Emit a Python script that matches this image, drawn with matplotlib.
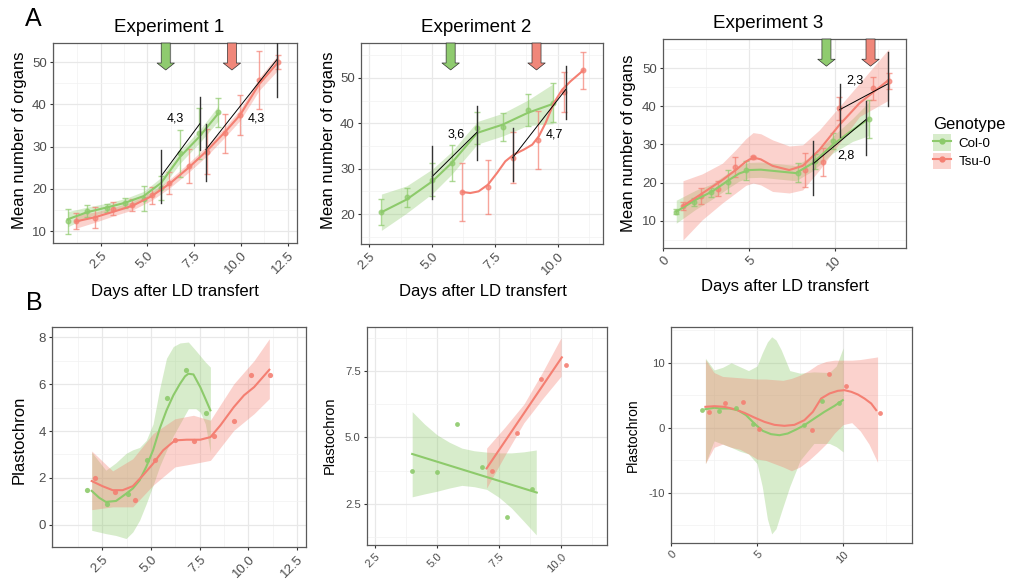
import matplotlib
matplotlib.use("Agg")
import matplotlib.pyplot as plt
from matplotlib.patches import Patch
from matplotlib.lines import Line2D
from matplotlib.legend_handler import HandlerTuple
from matplotlib.ticker import AutoMinorLocator

plt.rcParams['font.family'] = ['Liberation Sans', 'DejaVu Sans']

GREEN = '#8dca6b'
RED = '#f47f72'
GREEN_ARROW = '#8fcb6f'
RED_ARROW = '#f0877a'

genotypes = ['Col-0', 'Tsu-0']

# ---------------- Experiment 1 (panel A) ----------------
a1_col_x = [0.73, 1.79, 2.82, 3.8, 4.8, 5.73, 6.75, 7.77, 8.8]
a1_col_y = [12.3, 14.75, 15.5, 16.7, 17.7, 20.2, 28.4, 33.1, 38.1]
a1_col_err = [2.9, 1.5, 1.0, 1.2, 3.0, 2.8, 5.5, 6.0, 3.4]
a1_col_fit = [12.8, 14.5, 15.6, 16.7, 18.3, 21.4, 27.6, 32.3, 37.9]
a1_col_se = [1.8, 1.2, 1.0, 1.0, 1.1, 1.3, 1.5, 1.5, 1.8]

a1_tsu_x = [1.18, 2.2, 3.18, 4.2, 5.23, 6.18, 7.2, 8.18, 9.16, 9.96, 10.98, 11.96]
a1_tsu_y = [12.4, 13.2, 15.3, 16.2, 18.5, 21.4, 25.5, 28.8, 33.1, 37.5, 45.8, 50.0]
a1_tsu_err = [2.0, 2.4, 1.5, 1.5, 2.0, 2.7, 4.0, 5.3, 4.5, 4.7, 6.9, 1.7]
a1_tsu_fit = [12.3, 13.3, 14.6, 16.0, 18.3, 21.2, 25.0, 29.0, 33.5, 37.5, 44.8, 49.8]
a1_tsu_se = [1.6, 1.2, 1.0, 1.0, 1.0, 1.0, 1.1, 1.2, 1.2, 1.3, 1.5, 1.8]

a1_slopes = [(5.73, 23.0, 7.82, 35.5), (8.13, 29.3, 11.93, 50.6)]
a1_bars = [(5.73, 16.7, 29.2), (7.82, 29.2, 41.8), (8.13, 21.8, 35.3), (11.93, 41.8, 54.7)]
a1_labels = [(6.5, 36.7, '4,3'), (10.8, 36.7, '4,3')]
a1_arrows = [5.98, 9.52]

# ---------------- Experiment 2 ----------------
a2_col_x = [2.99, 3.99, 5.01, 5.78, 6.8, 7.8, 8.8, 9.81]
a2_col_y = [20.4, 23.7, 27.6, 31.25, 39.0, 39.2, 43.0, 44.5]
a2_col_err = [2.9, 2.1, 3.6, 3.9, 3.6, 3.0, 3.5, 4.3]
a2_col_fit = [20.4, 23.2, 27.2, 31.25, 37.9, 39.7, 42.3, 44.3]
a2_col_se = [4.0, 3.0, 2.7, 2.5, 2.5, 2.5, 2.8, 4.4]

a2_tsu_x = [6.21, 7.22, 8.2, 9.22, 10.24, 11.01]
a2_tsu_y = [24.9, 26.0, 32.4, 36.25, 46.9, 51.7]
a2_tsu_err = [6.4, 5.9, 5.6, 6.4, 4.3, 4.1]
a2_tsu_fit_x = [6.21, 6.52, 6.85, 7.22, 7.58, 7.91, 8.24, 8.64, 8.98, 9.24, 9.51,
                9.84, 10.17, 10.5, 11.01]
a2_tsu_fit = [24.85, 24.63, 25.0, 26.47, 29.04, 31.62, 33.09, 34.19, 35.29, 37.13,
              40.07, 44.49, 47.43, 49.26, 51.69]

a2_slopes = [(5.01, 28.3, 6.78, 38.0), (8.2, 32.4, 10.33, 47.6)]
a2_bars = [(5.01, 23.3, 35.1), (6.78, 32.0, 43.9), (8.2, 27.2, 39.0), (10.33, 41.0, 52.6)]
a2_labels = [(5.96, 37.6, '3,6'), (9.87, 37.6, '4,7')]
a2_arrows = [5.74, 9.15]

# ---------------- Experiment 3 ----------------
a3_col_x = [0.76, 1.79, 2.76, 3.77, 4.8, 7.8, 8.8, 9.84, 11.94]
a3_col_y = [12.4, 15.0, 17.5, 20.3, 23.3, 22.6, 25.6, 30.9, 36.7]
a3_col_err = [0.6, 1.0, 1.2, 3.0, 2.5, 2.5, 2.0, 2.0, 5.0]
a3_col_fit_x = [0.76, 1.88, 2.85, 3.82, 4.41, 4.99, 5.67, 6.35, 7.71, 8.68, 9.84, 11.0, 11.94]
a3_col_fit = [12.4, 15.5, 17.7, 20.7, 22.4, 23.3, 23.4, 23.1, 22.5, 25.1, 29.9, 33.8, 36.7]
a3_col_se = [3.0, 2.5, 2.0, 2.0, 2.0, 2.0, 2.0, 2.0, 2.0, 2.0, 2.2, 3.0, 4.4]

a3_tsu_x = [1.15, 2.17, 3.2, 4.17, 5.22, 8.25, 9.26, 10.23, 12.2, 13.1]
a3_tsu_y = [13.9, 16.5, 18.4, 24.2, 26.6, 23.3, 25.5, 39.5, 44.7, 46.5]
a3_tsu_err = [1.0, 2.0, 2.0, 2.6, 0.5, 4.4, 3.7, 3.0, 3.0, 2.1]
a3_tsu_fit_x = [1.15, 2.27, 3.44, 4.21, 4.8, 5.22, 5.67, 6.35, 7.32, 8.1, 9.07, 10.23, 11.4, 13.1]
a3_tsu_fit = [13.9, 17.2, 20.7, 23.3, 25.5, 26.6, 26.1, 24.4, 23.3, 24.4, 28.6, 35.1, 40.8, 46.9]
a3_tsu_upper = [20.5, 22.3, 25.1, 28.6, 31.5, 33.1, 32.8, 31.2, 29.6, 29.9, 33.8, 39.9, 46.0, 55.0]
a3_tsu_lower = [5.0, 10.3, 14.7, 17.3, 19.3, 19.9, 19.4, 17.7, 17.3, 18.1, 23.3, 30.3, 37.3, 41.6]

a3_slopes = [(8.7, 24.9, 11.8, 36.6), (10.25, 39.1, 13.07, 45.9)]
a3_bars = [(8.7, 16.8, 30.8), (11.8, 27.3, 41.3), (10.25, 31.9, 45.8), (13.07, 40.0, 54.1)]
a3_labels = [(10.6, 27.2, '2,8'), (11.13, 46.8, '2,3')]
a3_arrows = [9.48, 12.04]

# ---------------- Plastochron (panel B) ----------------
b1_col_x = [1.71, 2.74, 3.81, 4.82, 5.8, 6.8, 7.84]
b1_col_y = [1.50, 0.91, 1.33, 2.75, 5.42, 6.58, 4.77]
b1_col_fit_x = [1.965, 2.345, 2.69, 3.21, 3.73, 4.07, 4.42, 4.76, 5.11, 5.45, 5.8, 6.15,
                6.49, 6.75, 6.92, 7.18, 7.53, 7.79, 8.05]
b1_col_fit = [1.45, 1.16, 0.98, 1.02, 1.33, 1.55, 1.90, 2.47, 3.18, 4.10, 4.88, 5.52,
              6.01, 6.33, 6.44, 6.41, 5.87, 5.38, 4.88]
b1_col_band_x = [1.965, 2.69, 3.21, 3.73, 4.07, 4.42, 4.76, 5.11, 5.45, 5.8, 6.15, 6.49,
                 6.92, 7.3, 7.53, 7.79, 8.05]
b1_col_upper = [3.1, 2.33, 2.65, 3.05, 3.2, 3.3, 3.6, 4.3, 5.8, 7.1, 7.6, 7.75,
                7.79, 7.43, 7.2, 6.94, 6.72]
b1_col_lower = [-0.23, -0.37, -0.45, -0.58, -0.3, 0.2, 0.9, 1.69, 2.5, 3.18, 3.8, 4.31,
                4.95, 4.95, 4.8, 4.3, 3.06]

b1_tsu_x = [2.12, 3.16, 4.18, 5.21, 6.23, 7.23, 8.25, 9.25, 10.12, 11.12]
b1_tsu_y = [2.01, 1.40, 1.08, 2.75, 3.6, 3.56, 3.77, 4.43, 6.37, 6.37]
b1_tsu_fit_x = [1.965, 2.52, 3.04, 3.55, 4.07, 4.59, 5.11, 5.63, 6.23, 6.83, 7.53, 8.05,
                8.56, 9.25, 9.77, 10.29, 11.07]
b1_tsu_fit = [1.87, 1.65, 1.48, 1.48, 1.65, 2.11, 2.61, 3.18, 3.6, 3.63, 3.63, 3.74,
              4.24, 5.02, 5.52, 5.87, 6.61]
b1_tsu_band_x = [1.965, 3.04, 4.07, 5.11, 6.23, 7.18, 8.05, 9.25, 10.29, 11.07]
b1_tsu_upper = [3.15, 2.3, 2.82, 3.89, 4.52, 4.67, 4.46, 6.01, 7.0, 7.93]
b1_tsu_lower = [0.65, 0.77, 0.77, 1.69, 2.47, 2.61, 2.75, 4.03, 4.74, 5.38]

b2_col_x = [4.0, 5.0, 5.81, 6.8, 7.81, 8.82]
b2_col_y = [3.75, 3.71, 5.51, 3.9, 2.0, 3.06]
b2_col_fit_x = [4.0, 9.02]
b2_col_fit = [4.38, 2.93]
b2_col_band_x = [4.0, 4.5, 5.0, 5.5, 6.0, 6.5, 7.0, 7.5, 8.0, 8.5, 9.0]
b2_col_upper = [5.97, 5.5, 5.1, 4.82, 4.6, 4.5, 4.45, 4.42, 4.42, 4.46, 4.53]
b2_col_lower = [2.77, 2.88, 2.98, 3.1, 3.2, 3.15, 3.05, 2.75, 2.35, 1.85, 1.34]

b2_tsu_x = [7.2, 8.21, 9.19, 10.2]
b2_tsu_y = [3.75, 5.18, 7.2, 7.73]
b2_tsu_fit_x = [7.0, 10.03]
b2_tsu_fit = [3.84, 8.01]
b2_tsu_band_x = [7.0, 7.75, 8.5, 9.25, 10.0]
b2_tsu_upper = [4.6, 5.4, 6.25, 7.45, 8.75]
b2_tsu_lower = [3.1, 4.35, 5.55, 6.45, 7.3]

b3_col_x = [1.78, 2.77, 3.8, 4.79, 7.75, 8.76, 9.75]
b3_col_y = [2.72, 2.57, 2.98, 0.6, 0.41, 4.15, 3.82]
b3_col_fit_x = [2.0, 2.52, 2.91, 3.39, 3.88, 4.36, 4.84, 5.33, 5.81, 6.30, 6.78, 7.27,
                7.75, 8.33, 8.91, 9.50, 9.98]
b3_col_fit = [2.87, 3.08, 2.97, 2.97, 2.72, 1.95, 0.67, -0.46, -0.97, -1.13, -0.87, -0.26,
              0.41, 1.44, 2.46, 3.38, 4.26]
b3_col_band_x = [2.0, 2.5, 3.0, 3.5, 4.0, 4.5, 5.0, 5.3, 5.6, 5.85, 6.1, 6.4, 6.9, 7.5,
                 8.3, 9.2, 9.6, 10.0]
b3_col_upper = [10.7, 8.9, 9.3, 10.0, 9.4, 8.8, 9.5, 11.5, 13.2, 14.0, 13.5, 12.0, 8.8,
                8.4, 8.6, 8.5, 9.5, 12.3]
b3_col_lower = [-5.5, -2.0, -2.5, -3.0, -3.6, -4.0, -5.5, -9.0, -14.0, -16.3, -15.5, -13.0,
                -9.0, -5.0, -2.4, -2.4, -2.9, -3.7]

b3_tsu_x = [2.19, 3.16, 4.17, 5.14, 8.18, 9.17, 10.16, 12.15]
b3_tsu_y = [2.41, 3.89, 4.0, -0.2, -0.26, 8.26, 6.46, 2.31]
b3_tsu_fit_x = [2.0, 2.52, 3.10, 3.68, 4.26, 4.84, 5.43, 6.01, 6.59, 7.17, 7.75, 8.24,
                8.72, 9.21, 9.69, 10.08, 10.47, 10.85, 11.24, 11.63, 11.92]
b3_tsu_fit = [3.23, 3.33, 3.23, 2.87, 2.31, 1.59, 0.92, 0.46, 0.31, 0.46, 1.18, 2.46,
              4.51, 5.28, 5.69, 5.79, 5.54, 5.13, 4.51, 3.74, 2.72]
b3_tsu_band_x = [2.0, 2.5, 3.0, 3.5, 4.0, 4.5, 5.0, 5.5, 6.0, 6.5, 7.0, 7.5, 8.0, 8.5,
                 9.0, 9.5, 10.0, 10.5, 11.0, 11.5, 12.0]
b3_tsu_upper = [10.5, 8.5, 7.9, 7.8, 7.7, 7.6, 7.5, 7.5, 7.4, 7.3, 7.6, 8.1, 8.8, 9.7,
                10.2, 10.4, 10.4, 10.4, 10.5, 10.7, 10.9]
b3_tsu_lower = [-5.5, -3.0, -2.5, -3.0, -3.3, -4.0, -4.8, -5.0, -5.5, -6.0, -6.6, -6.0,
                -5.0, -3.8, -2.5, -0.8, 0.5, 0.8, -0.5, -2.5, -5.3]

W, H = 1016, 587
fig = plt.figure(figsize=(W / 100, H / 100), dpi=100)


def add_axes(left, top, right, bottom):
    return fig.add_axes([left / W, 1 - bottom / H, (right - left) / W, (bottom - top) / H])


def style(ax, xlim, ylim, xticks, xlabels, yticks, ylabels, fs):
    ax.set_xlim(xlim)
    ax.set_ylim(ylim)
    ax.set_xticks(xticks)
    ax.set_xticklabels(xlabels, rotation=45, ha='right', va='top',
                       rotation_mode='anchor', fontsize=fs, color='#4d4d4d')
    ax.set_yticks(yticks)
    ax.set_yticklabels(ylabels, fontsize=fs, color='#4d4d4d')
    ax.xaxis.set_minor_locator(AutoMinorLocator(2))
    ax.yaxis.set_minor_locator(AutoMinorLocator(2))
    ax.grid(which='major', color='#e8e8e8', lw=0.9)
    ax.grid(which='minor', color='#f2f2f2', lw=0.5)
    ax.set_axisbelow(True)
    ax.tick_params(which='minor', length=0)
    ax.tick_params(which='major', length=2.5, width=0.8, color='#333333', pad=2)
    for s in ax.spines.values():
        s.set_color('#5a5a5a')
        s.set_linewidth(0.9)


def errpoints(ax, x, y, e, c):
    ax.errorbar(x, y, yerr=e, fmt='o', ms=3.3, color=c, alpha=0.7,
                capsize=2.5, elinewidth=1, capthick=1, zorder=3)


def band(ax, x, lo, hi, c):
    ax.fill_between(x, lo, hi, color=c, alpha=0.35, lw=0, zorder=2)


def smooth(ax, x, y, c):
    ax.plot(x, y, color=c, lw=1.5, zorder=4, solid_joinstyle='round')


def slopes(ax, segs, bars, labels):
    for x0, y0, x1, y1 in segs:
        ax.plot([x0, x1], [y0, y1], color='black', lw=0.7, zorder=5)
    for x, lo, hi in bars:
        ax.plot([x, x], [lo, hi], color='#333333', lw=1.0, zorder=5)
    for x, y, t in labels:
        ax.text(x, y, t, fontsize=9, ha='center', va='center', zorder=6)


def arrows(ax, xs, tip):
    for x, col in zip(xs, [GREEN_ARROW, RED_ARROW]):
        ax.annotate('', xy=(x, tip), xycoords=('data', 'axes fraction'),
                    xytext=(x, 1.0), textcoords=('data', 'axes fraction'),
                    arrowprops=dict(arrowstyle='simple,head_length=0.5,head_width=1.25,tail_width=0.65',
                                    fc=col, ec='#333333', lw=0.5, shrinkA=0, shrinkB=0,
                                    mutation_scale=10),
                    annotation_clip=False, zorder=7)


# ---- A1
ax = add_axes(53, 43, 297, 243)
style(ax, (-0.05, 13.0), (7.2, 54.5), [2.5, 5, 7.5, 10, 12.5],
      ['2.5', '5.0', '7.5', '10.0', '12.5'], [10, 20, 30, 40, 50],
      ['10', '20', '30', '40', '50'], 9.5)
band(ax, a1_col_x, [f - s for f, s in zip(a1_col_fit, a1_col_se)],
     [f + s for f, s in zip(a1_col_fit, a1_col_se)], GREEN)
band(ax, a1_tsu_x, [f - s for f, s in zip(a1_tsu_fit, a1_tsu_se)],
     [f + s for f, s in zip(a1_tsu_fit, a1_tsu_se)], RED)
errpoints(ax, a1_col_x, a1_col_y, a1_col_err, GREEN)
errpoints(ax, a1_tsu_x, a1_tsu_y, a1_tsu_err, RED)
smooth(ax, a1_col_x, a1_col_fit, GREEN)
smooth(ax, a1_tsu_x, a1_tsu_fit, RED)
slopes(ax, a1_slopes, a1_bars, a1_labels)
arrows(ax, a1_arrows, 0.865)

# ---- A2
ax = add_axes(361, 43, 603, 244)
style(ax, (2.18, 11.79), (13.4, 57.7), [2.5, 5, 7.5, 10],
      ['2.5', '5.0', '7.5', '10.0'], [20, 30, 40, 50],
      ['20', '30', '40', '50'], 9.5)
band(ax, a2_col_x, [f - s for f, s in zip(a2_col_fit, a2_col_se)],
     [f + s for f, s in zip(a2_col_fit, a2_col_se)], GREEN)
errpoints(ax, a2_col_x, a2_col_y, a2_col_err, GREEN)
errpoints(ax, a2_tsu_x, a2_tsu_y, a2_tsu_err, RED)
smooth(ax, a2_col_x, a2_col_fit, GREEN)
smooth(ax, a2_tsu_fit_x, a2_tsu_fit, RED)
slopes(ax, a2_slopes, a2_bars, a2_labels)
arrows(ax, a2_arrows, 0.866)

# ---- A3
ax = add_axes(663, 39, 906, 248)
style(ax, (-0.01, 14.1), (2.9, 57.6), [0, 5, 10], ['0', '5', '10'],
      [10, 20, 30, 40, 50], ['10', '20', '30', '40', '50'], 9.5)
band(ax, a3_col_fit_x, [f - s for f, s in zip(a3_col_fit, a3_col_se)],
     [f + s for f, s in zip(a3_col_fit, a3_col_se)], GREEN)
band(ax, a3_tsu_fit_x, a3_tsu_lower, a3_tsu_upper, RED)
errpoints(ax, a3_col_x, a3_col_y, a3_col_err, GREEN)
errpoints(ax, a3_tsu_x, a3_tsu_y, a3_tsu_err, RED)
smooth(ax, a3_col_fit_x, a3_col_fit, GREEN)
smooth(ax, a3_tsu_fit_x, a3_tsu_fit, RED)
slopes(ax, a3_slopes, a3_bars, a3_labels)
arrows(ax, a3_arrows, 0.87)

# ---- B1
ax = add_axes(52, 327, 306, 547)
style(ax, (-0.07, 12.95), (-0.94, 8.43), [2.5, 5, 7.5, 10, 12.5],
      ['2.5', '5.0', '7.5', '10.0', '12.5'], [0, 2, 4, 6, 8],
      ['0', '2', '4', '6', '8'], 9.5)
band(ax, b1_col_band_x, b1_col_lower, b1_col_upper, GREEN)
band(ax, b1_tsu_band_x, b1_tsu_lower, b1_tsu_upper, RED)
smooth(ax, b1_col_fit_x, b1_col_fit, GREEN)
smooth(ax, b1_tsu_fit_x, b1_tsu_fit, RED)
ax.scatter(b1_col_x, b1_col_y, s=14, color=GREEN, alpha=0.9, lw=0, zorder=5)
ax.scatter(b1_tsu_x, b1_tsu_y, s=14, color=RED, alpha=0.9, lw=0, zorder=5)

# ---- B2
ax = add_axes(367, 327, 607, 545)
style(ax, (2.18, 11.85), (0.96, 9.15), [2.5, 5, 7.5, 10],
      ['2.5', '5.0', '7.5', '10.0'], [2.5, 5.0, 7.5],
      ['2.5', '5.0', '7.5'], 8.2)
band(ax, b2_col_band_x, b2_col_lower, b2_col_upper, GREEN)
band(ax, b2_tsu_band_x, b2_tsu_lower, b2_tsu_upper, RED)
smooth(ax, b2_col_fit_x, b2_col_fit, GREEN)
smooth(ax, b2_tsu_fit_x, b2_tsu_fit, RED)
ax.scatter(b2_col_x, b2_col_y, s=12, color=GREEN, alpha=0.9, lw=0, zorder=5)
ax.scatter(b2_tsu_x, b2_tsu_y, s=12, color=RED, alpha=0.9, lw=0, zorder=5)

# ---- B3
ax = add_axes(671, 327, 912, 543)
style(ax, (0, 14.0), (-17.7, 15.5), [0, 5, 10], ['0', '5', '10'],
      [-10, 0, 10], ['-10', '0', '10'], 8.2)
band(ax, b3_col_band_x, b3_col_lower, b3_col_upper, GREEN)
band(ax, b3_tsu_band_x, b3_tsu_lower, b3_tsu_upper, RED)
smooth(ax, b3_col_fit_x, b3_col_fit, GREEN)
smooth(ax, b3_tsu_fit_x, b3_tsu_fit, RED)
ax.scatter(b3_col_x, b3_col_y, s=12, color=GREEN, alpha=0.9, lw=0, zorder=5)
ax.scatter(b3_tsu_x, b3_tsu_y, s=12, color=RED, alpha=0.9, lw=0, zorder=5)


# ---- texts
def ftext(x, y, s, **kw):
    fig.text(x / W, 1 - y / H, s, **kw)


ftext(25, 19, 'A', fontsize=18, va='center', ha='left')
ftext(26, 303, 'B', fontsize=18, va='center', ha='left')
ftext(169, 27, 'Experiment 1', fontsize=13.5, ha='center', va='center')
ftext(476, 27, 'Experiment 2', fontsize=13.5, ha='center', va='center')
ftext(768, 23, 'Experiment 3', fontsize=13.5, ha='center', va='center')
for xc, yc in [(175, 291), (483, 292), (785, 287)]:
    ftext(xc, yc, 'Days after LD transfert', fontsize=12, ha='center', va='center')
for xc, yc in [(20, 140), (328, 140), (629, 143)]:
    ftext(xc, yc, 'Mean number of organs', fontsize=12, ha='center', va='center', rotation=90)
ftext(19, 440, 'Plastochron', fontsize=12, ha='center', va='center', rotation=90)
ftext(330, 435, 'Plastochron', fontsize=10.5, ha='center', va='center', rotation=90)
ftext(633, 435, 'Plastochron', fontsize=10, ha='center', va='center', rotation=90)

handles = [(Patch(facecolor=GREEN, alpha=0.35, lw=0),
            Line2D([], [], color=GREEN, lw=1.5, marker='o', ms=3.5)),
           (Patch(facecolor=RED, alpha=0.35, lw=0),
            Line2D([], [], color=RED, lw=1.5, marker='o', ms=3.5))]
fig.legend(handles, genotypes, title='Genotype', loc='upper left',
           bbox_to_anchor=(924 / W, 1 - 108 / H), frameon=False, fontsize=9.6,
           title_fontsize=12, handlelength=1.3, handleheight=1.5,
           handler_map={tuple: HandlerTuple(ndivide=1, pad=0)},
           alignment='left', labelspacing=0.15, handletextpad=0.6,
           borderpad=0.2)

fig.savefig('out.png', dpi=100)
